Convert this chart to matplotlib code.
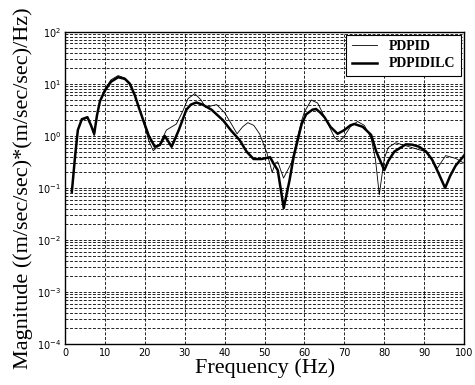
import matplotlib
matplotlib.use('Agg')
import matplotlib.pyplot as plt
from matplotlib.ticker import LogLocator, MultipleLocator, NullFormatter

# PDPID (thin line)
f_pdpid = [1.7, 2.5, 3.2, 4.2, 5.6, 6.5, 7.3, 8.0, 8.75, 10, 11.5, 13.3, 15, 16.25,
           17.5, 18.5, 19.6, 21, 22.1, 23.5, 25.4, 27.9, 29.5, 30.8, 32.5, 34, 35.3,
           36.7, 38, 40, 41.5, 43.1, 44.5, 45.8, 47.3, 48.75, 50.6, 51.9, 52.7, 53.3,
           54.75, 56.7, 58.3, 59.3, 60, 61.7, 63.3, 64.5, 66.25, 67.5, 68.75, 70,
           71.5, 73.3, 75, 76.7, 77.8, 78.75, 80, 81, 82.9, 86.25, 88.5, 90.4, 91.8,
           93.3, 95.4, 97.9, 100]
m_pdpid = [0.085, 0.4, 1.3, 2.0, 2.2, 1.6, 1.0, 2.5, 4.5, 8, 12, 14.5, 13, 10.5,
           6, 3.5, 1.9, 0.8, 0.52, 0.65, 1.3, 1.7, 3.0, 5.2, 6.5, 5.0, 3.5,
           3.8, 4.0, 2.8, 1.8, 1.1, 1.5, 1.8, 1.6, 1.1, 0.47, 0.2, 0.3, 0.32,
           0.155, 0.30, 0.98, 2.0, 2.9, 4.9, 4.3, 2.8, 1.5, 0.95, 0.78, 1.0,
           1.5, 1.9, 1.6, 0.91, 0.35, 0.074, 0.37, 0.6, 0.74, 0.62, 0.55, 0.5, 0.38,
           0.24, 0.42, 0.37, 0.30]

# PDPIDILC (bold line)
f_ilc = [1.7, 2.5, 3.2, 4.2, 5.6, 6.5, 7.3, 8.0, 8.75, 10, 11.5, 13.3, 15, 16.25,
         17.5, 18.5, 19.6, 21, 22.5, 23.75, 25, 26.7, 28.5, 30.4, 31.5, 32.9, 34.5,
         36.7, 39.6, 41.5, 43.75, 45.5, 47.25, 49.2, 51.4, 52.2, 53.3, 54.8, 56.25,
         57.3, 58.3, 59.3, 60.4, 62, 62.9, 64, 65, 66.5, 68.3, 70, 71.5, 72.5,
         74.6, 76.7, 78, 80, 81, 82.5, 85.4, 87, 88.75, 90.5, 92, 93.5, 95.25,
         96.5, 97.9, 100]
m_ilc = [0.085, 0.4, 1.3, 2.1, 2.3, 1.6, 1.1, 2.5, 4.7, 7.5, 11, 13.5, 12.5, 10,
         6, 3.5, 2.0, 1.0, 0.62, 0.67, 1.0, 0.62, 1.3, 3.2, 4.0, 4.4, 4.0,
         3.2, 2.0, 1.3, 0.83, 0.5, 0.36, 0.36, 0.39, 0.3, 0.22, 0.041, 0.14,
         0.4, 0.83, 1.7, 2.6, 3.2, 3.3, 2.8, 2.3, 1.5, 1.1, 1.3, 1.6, 1.7,
         1.5, 1.05, 0.5, 0.22, 0.33, 0.5, 0.69, 0.68, 0.62, 0.5, 0.35, 0.2, 0.1,
         0.17, 0.27, 0.42]

fig = plt.figure(figsize=(4.75, 3.85), dpi=100)
ax = fig.add_axes([0.137, 0.1065, 0.84, 0.8105])

ax.semilogy(f_pdpid, m_pdpid, color='black', lw=0.6, label='PDPID')
ax.semilogy(f_ilc, m_ilc, color='black', lw=1.8, label='PDPIDILC')

ax.set_xlim(0, 100)
ax.set_ylim(1e-4, 1e2)
ax.xaxis.set_major_locator(MultipleLocator(10))
ax.yaxis.set_major_locator(LogLocator(base=10, numticks=10))
ax.yaxis.set_minor_locator(LogLocator(base=10, subs=range(2, 10), numticks=20))
ax.yaxis.set_minor_formatter(NullFormatter())

dash = (0, (3.5, 2))
ax.grid(True, which='major', axis='both', color='black', ls=dash, lw=0.6)
ax.grid(True, which='minor', axis='y', color='black', ls=dash, lw=0.6)
ax.tick_params(which='both', direction='in', length=0, labelsize=7, pad=3)
for s in ax.spines.values():
    s.set_linewidth(1.0)

ax.set_xlabel('Frequency (Hz)', family='Liberation Serif', fontsize=16, labelpad=0)
ax.set_ylabel('Magnitude ((m/sec/sec)*(m/sec/sec)/Hz)', family='Liberation Serif',
              fontsize=16, labelpad=3)

leg = ax.legend(loc='upper right', fancybox=False, framealpha=1, edgecolor='black',
                prop={'family': 'Liberation Serif', 'weight': 'bold', 'size': 10},
                borderaxespad=0.2, handlelength=1.8, handletextpad=0.9,
                labelspacing=0.3, borderpad=0.4)
leg.get_frame().set_linewidth(0.8)

fig.savefig('out.png', dpi=100)
